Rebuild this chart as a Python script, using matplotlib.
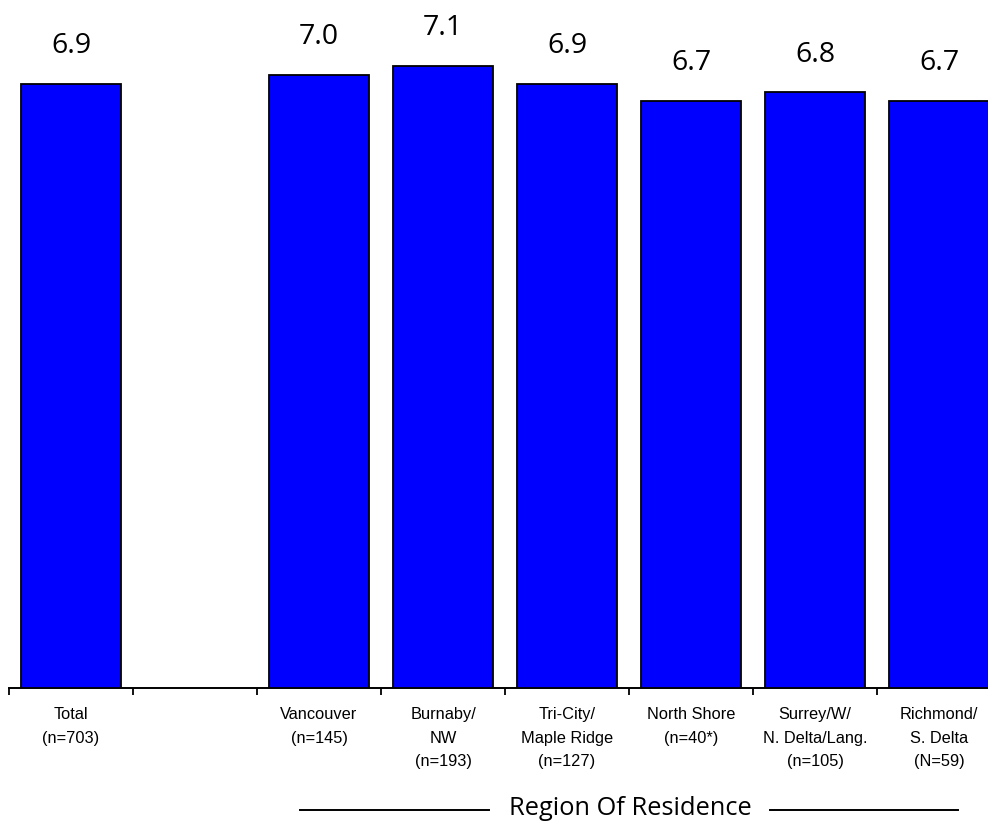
import numpy as np
import matplotlib
matplotlib.use("Agg")
import matplotlib.pyplot as plt
from matplotlib.lines import Line2D

categories = ["Total\n(n=703)", "", "Vancouver\n(n=145)", "Burnaby/\nNW\n(n=193)",
              "Tri-City/\nMaple Ridge\n(n=127)", "North Shore\n(n=40*)",
              "Surrey/W/\nN. Delta/Lang.\n(n=105)", "Richmond/\nS. Delta\n(N=59)"]
values = [6.9, np.nan, 7.0, 7.1, 6.9, 6.7, 6.8, 6.7]
axis_title = "Region Of Residence"

W, H = 988, 821
fig = plt.figure(figsize=(W / 100, H / 100), dpi=100)
left_px, base_px, step_px = 9, 688, 124
n = len(categories)
ax = fig.add_axes([left_px / W, (H - base_px) / H, n * step_px / W, base_px / H])

x = np.arange(n)
ax.bar(x, values, width=0.81, color="#0000FF", edgecolor="black", linewidth=1.3, zorder=3)
ax.set_xlim(-0.5, n - 0.5)
ax.set_ylim(0, base_px / 87.6)

for xi, v in zip(x, values):
    if not np.isnan(v):
        ax.annotate(f"{v:.1f}", (xi, v), xytext=(0, 17), textcoords="offset points",
                    ha="center", va="bottom", fontsize=20.5, family="Open Sans")

for s in ["left", "top", "right"]:
    ax.spines[s].set_visible(False)
ax.spines["bottom"].set_linewidth(1.4)
ax.set_yticks([])
ax.set_xticks(x)
ax.set_xticklabels(categories, fontsize=11.8, family="Liberation Sans", linespacing=1.7)
ax.tick_params(axis="x", which="major", length=0, pad=14)
ax.set_xticks(np.arange(n) - 0.5, minor=True)
ax.tick_params(axis="x", which="minor", length=5, width=1.3, direction="out")

fig.text(630 / W, 1 - 808 / H, axis_title, ha="center", va="center", fontsize=18.3, family="Open Sans")
y_line = 1 - 810 / H
fig.add_artist(Line2D([300 / W, 489 / W], [y_line, y_line], color="black", linewidth=1.4))
fig.add_artist(Line2D([770 / W, 958 / W], [y_line, y_line], color="black", linewidth=1.4))

fig.savefig("out.png", dpi=100)
